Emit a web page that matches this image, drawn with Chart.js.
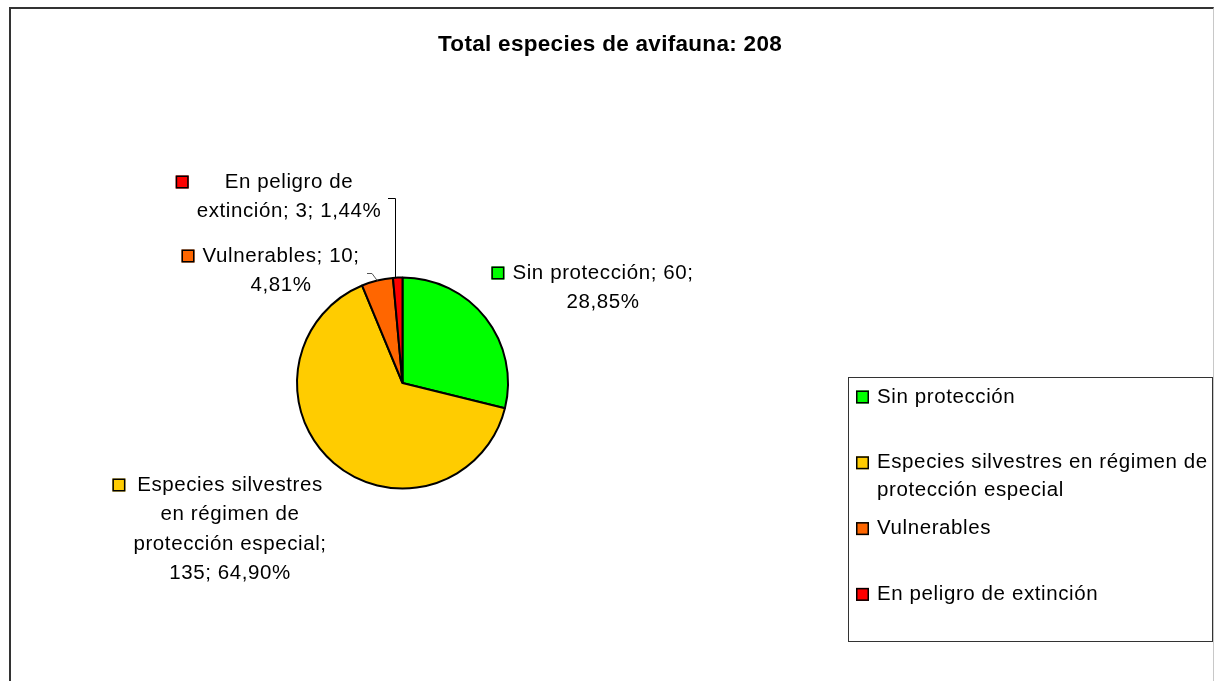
<!DOCTYPE html>
<html lang="es">
<head>
<meta charset="UTF-8">
<title>Total especies de avifauna</title>
<script src="https://cdn.jsdelivr.net/npm/chart.js"></script>
<style>
  html, body { margin: 0; padding: 0; background: #fff; overflow: hidden; }
  .wrap { position: relative; width: 1215px; height: 681px; }
  .frame {
    position: absolute; left: 9px; top: 7px; width: 1202px; height: 720px;
    border-left: 2px solid #333; border-top: 2px solid #333; border-right: 1px solid #c8c8c8;
  }
  canvas { position: absolute; left: 0; top: 0; }
</style>
</head>
<body>
<div class="wrap">
  <div class="frame"></div>
  <canvas id="pie" width="1215" height="681"></canvas>
</div>
<script>
const titleText = 'Total especies de avifauna: 208';
const categories = ['Sin protección', 'Especies silvestres en régimen de protección especial', 'Vulnerables', 'En peligro de extinción'];
const counts = [60, 135, 10, 3];
const colors = ['#00ff00', '#ffcc00', '#ff6600', '#ff0000'];

const total = counts.reduce((a, b) => a + b, 0);
const pct = counts.map(v => (v / total * 100).toFixed(2).replace('.', ',') + '%');

// where each data label sits (centre x, first line y) and how wide it may wrap
const labelPos = [
  { x: 603, y: 273, wrap: 190 },
  { x: 230, y: 485, wrap: 200 },
  { x: 281, y: 256, wrap: 170 },
  { x: 289, y: 182, wrap: 190 }
];
// leader lines: start point next to the label text
const leaders = [null, null, { x: 367, y: 273, kind: 'bend' }, { x: 388, y: 198, kind: 'drop' }];

const FONT = '"Liberation Sans", Arial, sans-serif';

function wrapText(ctx, text, maxW) {
  const words = text.split(' ');
  const lines = [];
  let cur = '';
  words.forEach(w => {
    const test = cur ? cur + ' ' + w : w;
    if (cur && ctx.measureText(test).width > maxW) {
      lines.push(cur);
      cur = w;
    } else {
      cur = test;
    }
  });
  if (cur) lines.push(cur);
  return lines;
}

function drawKey(ctx, x, y, color) {
  ctx.fillStyle = color;
  ctx.fillRect(x, y - 6.5, 13, 13);
  ctx.strokeStyle = '#000';
  ctx.lineWidth = 1.5;
  ctx.strokeRect(x + 0.75, y - 5.75, 11.5, 11.5);
}

const extras = {
  id: 'extras',
  afterDraw(chart) {
    const ctx = chart.ctx;
    const meta = chart.getDatasetMeta(0);
    ctx.save();

    // title
    ctx.letterSpacing = '0.3px';
    ctx.font = 'bold 22.5px ' + FONT;
    ctx.fillStyle = '#000';
    ctx.textAlign = 'center';
    ctx.textBaseline = 'middle';
    ctx.fillText(titleText, 610, 45);

    // data labels
    ctx.letterSpacing = '0.6px';
    ctx.font = '20.5px ' + FONT;
    categories.forEach((cat, i) => {
      const p = labelPos[i];
      const lines = wrapText(ctx, cat + '; ' + counts[i] + '; ' + pct[i], p.wrap);
      const widest = Math.max(...lines.map(l => ctx.measureText(l).width));
      ctx.fillStyle = '#000';
      ctx.textAlign = 'center';
      lines.forEach((l, k) => ctx.fillText(l, p.x, p.y + k * 29.5));
      drawKey(ctx, p.x - widest / 2 - 21, p.y, colors[i]);

      const ld = leaders[i];
      if (ld) {
        const arc = meta.data[i];
        const mid = (arc.startAngle + arc.endAngle) / 2;
        const ex = arc.x + Math.cos(mid) * arc.outerRadius;
        const ey = arc.y + Math.sin(mid) * arc.outerRadius;
        ctx.beginPath();
        ctx.moveTo(ld.x, ld.y + 0.5);
        if (ld.kind === 'drop') {
          ctx.lineTo(Math.round(ex) - 2.5, ld.y + 0.5);
          ctx.lineTo(Math.round(ex) - 2.5, ey);
        } else {
          ctx.lineTo(ld.x + 5, ld.y + 0.5);
          ctx.lineTo(ex, ey);
        }
        ctx.strokeStyle = i === 3 ? '#000' : '#555';
        ctx.lineWidth = 1;
        ctx.stroke();
      }
    });

    // legend box
    ctx.strokeStyle = '#333';
    ctx.lineWidth = 1;
    ctx.strokeRect(848.5, 377.5, 364, 264);
    ctx.textAlign = 'left';
    categories.forEach((cat, i) => {
      const y = 397 + i * 65.8;
      const lines = wrapText(ctx, cat, 335);
      ctx.fillStyle = '#000';
      lines.forEach((l, k) => ctx.fillText(l, 877, y + k * 28));
      drawKey(ctx, 856, y, colors[i]);
    });
    ctx.restore();
  }
};

new Chart(document.getElementById('pie'), {
  type: 'pie',
  data: {
    labels: categories,
    datasets: [{
      data: counts,
      backgroundColor: colors,
      borderColor: '#000',
      borderWidth: 2
    }]
  },
  options: {
    responsive: false,
    animation: false,
    radius: 105.5,
    layout: { padding: { left: 100, right: 510, top: 185, bottom: 100 } },
    plugins: {
      legend: { display: false },
      tooltip: { enabled: false },
      title: { display: false }
    }
  },
  plugins: [extras]
});
</script>
</body>
</html>
